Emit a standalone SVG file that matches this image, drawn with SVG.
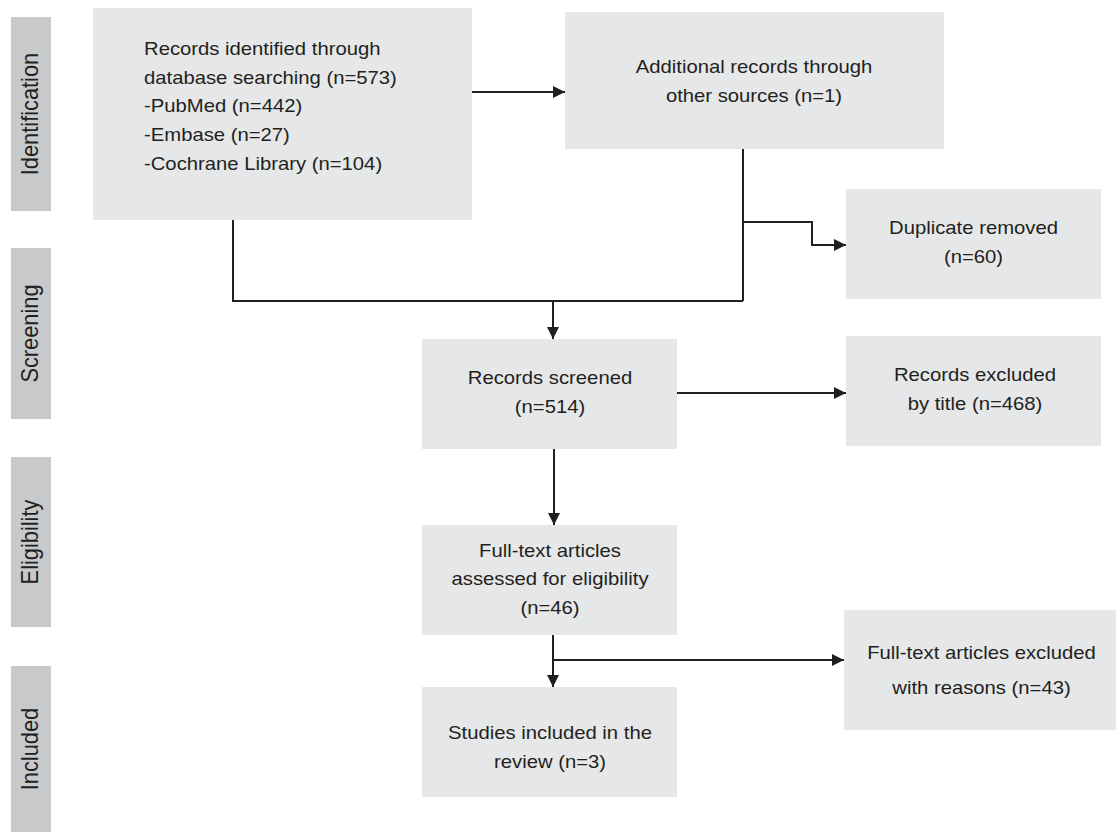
<svg xmlns="http://www.w3.org/2000/svg" width="1116" height="832" viewBox="0 0 1116 832">
<style>
.box{fill:#e6e7e8;}
.bar{fill:#c8c9cb;}
.t{font-family:"Liberation Sans",Arial,Helvetica,sans-serif;font-size:18.6px;fill:#231f20;text-anchor:middle;}
.tl{text-anchor:start;}
.v{font-family:"Liberation Sans",Arial,Helvetica,sans-serif;font-size:21.8px;fill:#231f20;text-anchor:middle;}
.c{fill:none;stroke:#231f20;stroke-width:2;}
</style>
<defs>
<marker id="ah" markerUnits="userSpaceOnUse" markerWidth="12" markerHeight="12" refX="12" refY="6" orient="auto">
<path d="M0,0 L12,6 L0,12 z" fill="#231f20"/>
</marker>
</defs>
<rect width="1116" height="832" fill="#ffffff"/>

<g id="phase-identification">
<rect class="bar" x="11" y="17" width="40" height="194"/>
<text class="v" transform="translate(38.3,114) scale(1.09,1) rotate(-90)">Identification</text>
</g>
<g id="phase-screening">
<rect class="bar" x="11" y="248" width="40" height="171"/>
<text class="v" transform="translate(38.3,333.5) scale(1.09,1) rotate(-90)">Screening</text>
</g>
<g id="phase-eligibility">
<rect class="bar" x="11" y="457" width="40" height="170"/>
<text class="v" transform="translate(38.3,542) scale(1.09,1) rotate(-90)">Eligibility</text>
</g>
<g id="phase-included">
<rect class="bar" x="11" y="666" width="40" height="166"/>
<text class="v" transform="translate(38.3,749) scale(1.09,1) rotate(-90)">Included</text>
</g>

<g id="connectors">
<path class="c" d="M472,92 H565" marker-end="url(#ah)"/>
<path class="c" d="M233,220 V301 H743"/>
<path class="c" d="M743,149 V301"/>
<path class="c" d="M743,222 H812 V245 H846" marker-end="url(#ah)"/>
<path class="c" d="M553,301 V339" marker-end="url(#ah)"/>
<path class="c" d="M677,393 H846" marker-end="url(#ah)"/>
<path class="c" d="M554,449 V525" marker-end="url(#ah)"/>
<path class="c" d="M553,635 V687" marker-end="url(#ah)"/>
<path class="c" d="M553,660 H844" marker-end="url(#ah)"/>
</g>

<g id="records-identified">
<rect class="box" x="93" y="8" width="379" height="212"/>
<g transform="translate(144,0) scale(1.09,1)">
<text class="t tl" x="0" y="55">Records identified through</text>
<text class="t tl" x="0" y="83.7">database searching (n=573)</text>
<text class="t tl" x="0" y="112.4">-PubMed (n=442)</text>
<text class="t tl" x="0" y="141.1">-Embase (n=27)</text>
<text class="t tl" x="0" y="169.8">-Cochrane Library (n=104)</text>
</g>
</g>

<g id="additional-records">
<rect class="box" x="565" y="12" width="379" height="137"/>
<g transform="translate(754,0) scale(1.09,1)">
<text class="t" x="0" y="73">Additional records through</text>
<text class="t" x="0" y="102">other sources (n=1)</text>
</g>
</g>

<g id="duplicate-removed">
<rect class="box" x="846" y="189" width="255" height="110"/>
<g transform="translate(973.5,0) scale(1.09,1)">
<text class="t" x="0" y="234">Duplicate removed</text>
<text class="t" x="0" y="263">(n=60)</text>
</g>
</g>

<g id="records-screened">
<rect class="box" x="422" y="339" width="255" height="110"/>
<g transform="translate(550,0) scale(1.09,1)">
<text class="t" x="0" y="384">Records screened</text>
<text class="t" x="0" y="413">(n=514)</text>
</g>
</g>

<g id="records-excluded">
<rect class="box" x="846" y="336" width="255" height="110"/>
<g transform="translate(975,0) scale(1.09,1)">
<text class="t" x="0" y="381">Records excluded</text>
<text class="t" x="0" y="410">by title (n=468)</text>
</g>
</g>

<g id="full-text-assessed">
<rect class="box" x="422" y="525" width="255" height="110"/>
<g transform="translate(550,0) scale(1.09,1)">
<text class="t" x="0" y="557">Full-text articles</text>
<text class="t" x="0" y="585.5">assessed for eligibility</text>
<text class="t" x="0" y="614">(n=46)</text>
</g>
</g>

<g id="full-text-excluded">
<rect class="box" x="844" y="610" width="272" height="120"/>
<g transform="translate(981.5,0) scale(1.09,1)">
<text class="t" x="0" y="659">Full-text articles excluded</text>
<text class="t" x="0" y="694">with reasons (n=43)</text>
</g>
</g>

<g id="studies-included">
<rect class="box" x="422" y="687" width="255" height="110"/>
<g transform="translate(550,0) scale(1.09,1)">
<text class="t" x="0" y="739">Studies included in the</text>
<text class="t" x="0" y="768">review (n=3)</text>
</g>
</g>
</svg>
